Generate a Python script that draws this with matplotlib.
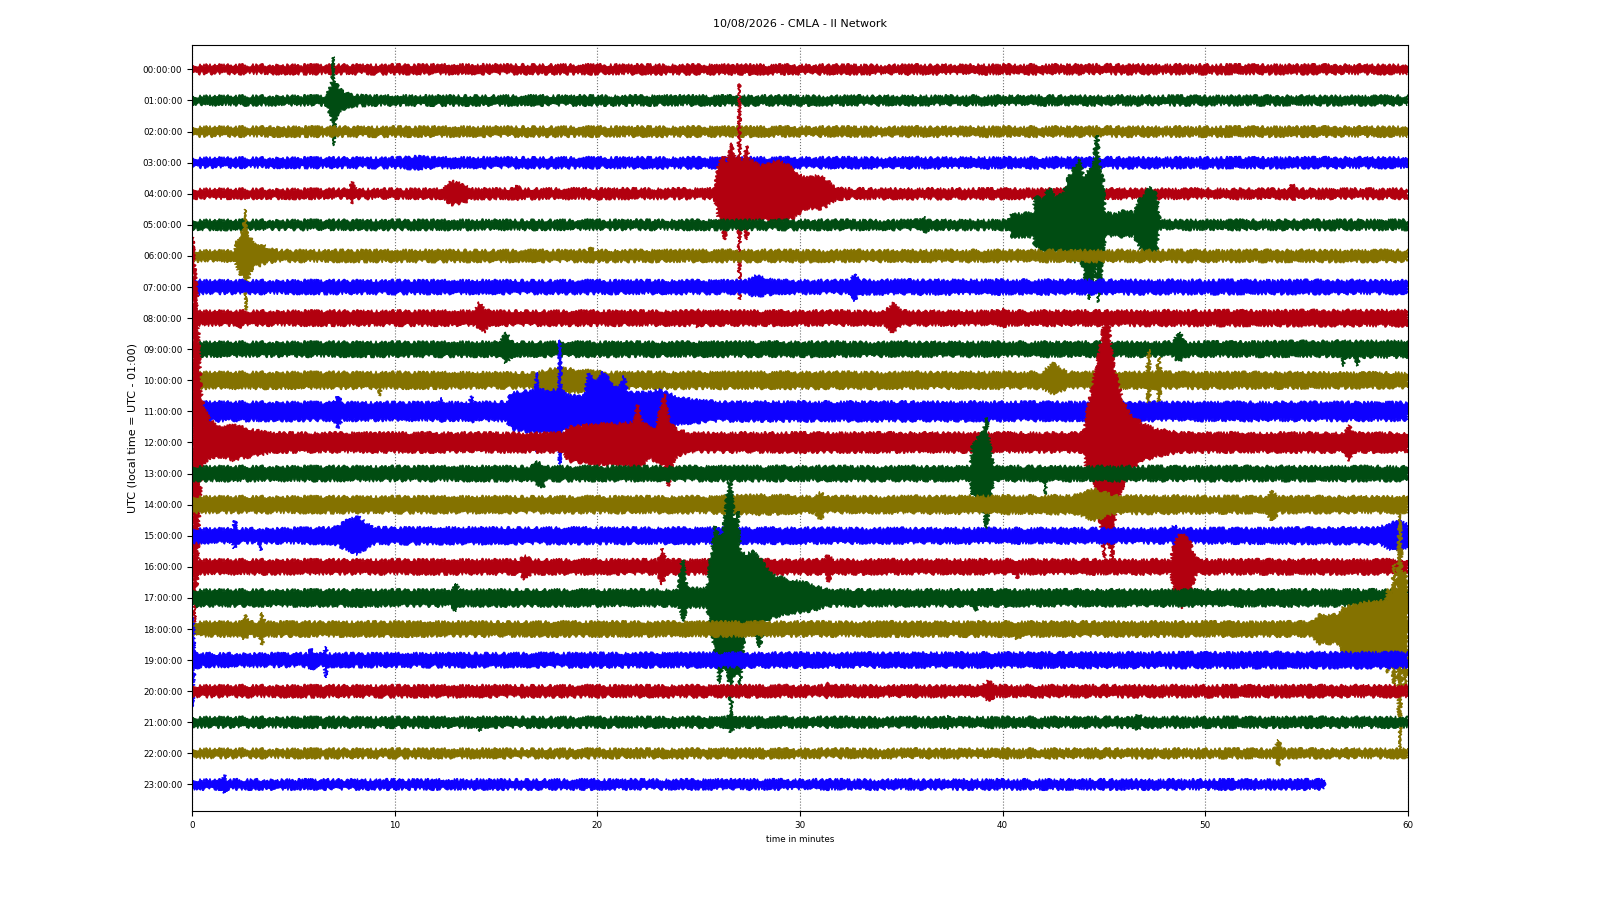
import matplotlib
matplotlib.use("Agg")
import matplotlib.pyplot as plt

TITLE = "10/08/2026 - CMLA - II Network"
YLABEL = "UTC (local time = UTC - 01:00)"
XLABEL = "time in minutes"
HOUR_LABELS = [f"{h:02d}:00:00" for h in range(24)]
COLORS = ["#B2000F", "#004C12", "#847200", "#0E01FF"]
X_TICKS = [0, 10, 20, 30, 40, 50, 60]

# envelope knots per hourly trace:
# (minute, amplitude above baseline, amplitude below baseline), 1.0 = one trace spacing
H00 = [(0, .13, .13), (14, .14, .13), (30, .13, .14), (46, .14, .13), (60, .13, .13)]
H01 = [(0, .13, .13), (6.6, .14, .14), (6.8, .35, .4), (6.92, .65, .85), (6.97, 1.4, .85),
       (7.0, .7, .85), (7.03, .7, 1.46), (7.08, .55, .6), (7.2, .45, .4), (7.4, .3, .3),
       (7.7, .22, .2), (8.2, .16, .16), (8.8, .14, .14), (60, .13, .13)]
H02 = [(0, .14, .14), (3.6, .14, .14), (3.8, .2, .15), (4.0, .14, .14), (60, .14, .14)]
H03 = [(0, .14, .14), (10.3, .15, .15), (11.0, .2, .2), (12.0, .15, .15), (32, .15, .16), (60, .15, .15)]
H04 = [(0, .14, .14), (7.7, .14, .14), (7.9, .37, .3), (8.1, .14, .14), (12.3, .14, .14),
       (12.8, .4, .34), (13.4, .3, .3), (13.8, .15, .15), (15.8, .15, .15), (16.0, .3, .2),
       (16.2, .15, .15), (25.8, .15, .15), (25.95, .8, .75), (26.1, 1.1, .9), (26.3, 1.2, 1.48),
       (26.4, 1.0, .9), (26.66, 1.63, .9), (26.8, 1.1, .95), (26.97, 1.2, 1.0), (27.01, 3.54, 3.4),
       (27.05, 1.2, 1.0), (27.2, 1.0, .95), (27.37, 1.55, 1.48), (27.5, 1.1, .9), (27.8, 1.0, .9),
       (28.1, .9, .85), (28.5, .95, .85), (28.9, 1.1, .9), (29.3, .95, .85), (29.7, .8, .8),
       (30.0, .6, .6), (30.4, .5, .45), (30.9, .6, .5), (31.3, .45, .4), (31.75, .2, .2),
       (32.2, .15, .15), (54.1, .14, .14), (54.3, .3, .2), (54.5, .14, .14), (60, .14, .14)]
H05 = [(0, .14, .14), (35.8, .14, .14), (36.1, .25, .25), (36.4, .14, .14), (40.3, .14, .14),
       (40.45, .38, .4), (41.0, .35, .38), (41.5, .4, .4), (41.6, .9, .7), (42.0, .85, .8),
       (42.3, 1.2, .86), (42.6, .9, .8), (43.0, 1.0, .86), (43.2, 1.45, .9), (43.5, 1.8, 1.2),
       (43.8, 2.1, .95), (44.0, 1.5, 1.5), (44.3, 1.8, 2.4), (44.5, 2.0, 1.6), (44.6, 2.85, 1.2),
       (44.68, 2.9, 2.5), (44.8, 1.7, 2.3), (44.95, 1.5, 1.0), (45.05, .4, .38), (45.5, .35, .35),
       (46.0, .45, .4), (46.5, .4, .35), (46.76, .8, .75), (47.0, 1.0, .85), (47.3, 1.2, .86),
       (47.6, 1.0, .85), (47.7, .4, .3), (47.75, .14, .14), (60, .14, .14)]
H06 = [(0, .16, .16), (2.1, .16, .16), (2.2, .4, .35), (2.4, .75, .6), (2.55, .8, .7),
       (2.62, 1.5, .9), (2.67, .9, 1.74), (2.75, .75, .8), (2.9, .55, .5), (3.1, .35, .35),
       (3.35, .3, .3), (3.55, .35, .25), (3.8, .22, .2), (4.3, .17, .17), (19.5, .17, .17),
       (19.7, .24, .2), (19.9, .17, .17), (60, .17, .17)]
H07 = [(0, .28, .28), (0.5, .2, .2), (27.4, .2, .2), (27.8, .35, .3), (28.3, .3, .25),
       (28.8, .2, .2), (32.5, .2, .2), (32.7, .44, .47), (32.9, .22, .22), (60, .2, .2)]
H08 = [(0, .22, .22), (2.1, .22, .22), (2.3, .22, .32), (2.5, .22, .22), (13.9, .22, .22),
       (14.2, .5, .3), (14.4, .3, .45), (14.7, .22, .22), (24.8, .22, .22), (25.0, .3, .3),
       (25.2, .22, .22), (34.2, .22, .22), (34.6, .48, .48), (35.0, .22, .22), (39.8, .22, .22),
       (40.1, .3, .25), (40.4, .22, .22), (60, .24, .24)]
H09 = [(0, .22, .22), (15.2, .22, .22), (15.5, .54, .45), (15.8, .22, .22), (48.4, .22, .22),
       (48.7, .57, .4), (49.0, .22, .22), (56.7, .25, .22), (56.8, .25, .56), (56.9, .25, .25),
       (57.4, .25, .25), (57.5, .25, .55), (57.6, .25, .25), (60, .25, .25)]
H10 = [(0, .25, .25), (9.2, .25, .25), (9.3, .25, .5), (9.4, .25, .25), (16.9, .23, .23),
       (18.0, .4, .45), (20.4, .25, .25), (41.9, .25, .25), (42.5, .54, .43), (43.2, .25, .25),
       (47.1, .25, .25), (47.2, 1.0, .75), (47.3, .3, .3), (47.6, .25, .25), (47.7, .75, .75),
       (47.8, .25, .25), (60, .23, .23)]
H11 = [(0, .3, .3), (7.0, .28, .28), (7.2, .5, .52), (7.4, .28, .28), (12.2, .28, .28),
       (12.3, .45, .3), (12.4, .28, .28), (13.7, .28, .28), (13.8, .5, .35), (13.9, .28, .28),
       (15.5, .3, .3), (15.8, .6, .6), (16.5, .65, .65), (16.95, .7, .7), (17.0, 1.26, 1.32),
       (17.05, .7, .7), (17.5, .67, .68), (18.1, .7, .7), (18.15, 2.3, 1.7), (18.22, .7, .7),
       (18.6, .5, .5), (19.4, .5, .5), (19.55, 1.2, .68), (20.0, 1.0, .68), (20.3, 1.26, .68),
       (20.7, .9, .68), (21.1, .75, .65), (21.3, 1.15, .6), (21.5, .6, .57), (22.5, .6, .57),
       (23.0, .7, .6), (24.1, .45, .4), (25, .35, .35), (26, .3, .3), (60, .28, .28)]
H12 = [(0, .3, .3), (0.03, 6.6, 4.0), (0.12, 5.8, 5.8), (0.25, 4.8, 4.5), (0.35, 3.0, 2.5),
       (0.45, 1.6, 1.0), (0.6, 1.1, .7), (0.75, .9, .55), (0.9, .7, .5), (1.5, .5, .45),
       (2.1, .55, .6), (2.4, .5, .5), (3.0, .4, .45), (4.0, .3, .3), (18.3, .3, .3),
       (18.6, .5, .6), (20.0, .6, .7), (21.0, .6, .75), (21.8, .65, .75), (22.0, 1.2, .75),
       (22.2, .7, .75), (22.5, .5, .5), (22.9, .5, .6), (23.3, 1.56, .75), (23.5, .8, 1.4),
       (23.8, .45, .5), (24.5, .3, .3), (44.0, .3, .3), (44.1, .75, .8), (44.45, 1.88, .9),
       (44.8, 3.0, 2.5), (45.0, 3.8, 3.7), (45.2, 4.0, 3.0), (45.4, 2.8, 3.8), (45.6, 2.1, 2.0),
       (45.95, 1.34, 1.4), (46.3, .9, .9), (46.9, .6, .6), (47.5, .45, .45), (48.8, .3, .3),
       (56.9, .3, .3), (57.1, .55, .6), (57.3, .3, .3), (60, .3, .3)]
H13 = [(0, .22, .22), (16.8, .22, .22), (16.9, .4, .3), (17.3, .3, .45), (17.5, .22, .22),
       (38.4, .22, .22), (38.5, .9, .7), (38.8, 1.16, .9), (39.0, 1.3, 1.0), (39.2, 1.8, 1.85),
       (39.35, 1.0, 1.0), (39.5, .4, .5), (39.6, .22, .22), (42.0, .22, .22), (42.1, .22, .67),
       (42.2, .22, .22), (60, .22, .22)]
H14 = [(0, .25, .25), (25.5, .25, .25), (28.0, .3, .3), (30.7, .25, .25), (31.0, .38, .48),
       (31.3, .25, .25), (43.5, .28, .28), (44.5, .5, .5), (45.5, .28, .28), (53.0, .25, .25),
       (53.3, .43, .54), (53.6, .25, .25), (60, .25, .25)]
H15 = [(0, .22, .22), (2.0, .22, .22), (2.1, .48, .43), (2.3, .22, .22), (3.3, .22, .22),
       (3.4, .22, .48), (3.5, .22, .22), (7.0, .25, .25), (7.5, .45, .4), (8.2, .63, .6),
       (8.6, .4, .4), (9.0, .25, .25), (48.3, .22, .22), (48.5, .35, .3), (48.7, .22, .22),
       (58.5, .25, .25), (59.3, .43, .48), (59.6, .5, .5), (60, .35, .35)]
H16 = [(0, .22, .22), (16.2, .22, .22), (16.45, .39, .42), (16.7, .22, .22), (23.0, .22, .22),
       (23.2, .6, .58), (23.4, .22, .22), (31.2, .22, .22), (31.4, .39, .47), (31.6, .22, .22),
       (40.6, .22, .22), (40.7, .22, .37), (40.8, .22, .22), (48.3, .22, .22), (48.5, .85, .85),
       (48.8, 1.08, 1.34), (49.2, .85, .85), (49.5, .3, .3), (49.7, .22, .22), (60, .22, .22)]
H17 = [(0, .25, .25), (12.8, .25, .25), (13.0, .47, .44), (13.2, .25, .25), (24.0, .25, .25),
       (24.15, 1.1, .5), (24.25, 1.23, .75), (24.35, .5, .55), (24.5, .3, .3), (25.4, .3, .3),
       (25.5, .8, .7), (25.8, 2.3, 1.8), (26.0, 2.0, 2.75), (26.2, 2.0, 2.1), (26.45, 3.75, 2.4),
       (26.6, 3.7, 3.7), (26.75, 2.5, 2.4), (26.95, 2.8, 2.4), (27.05, 1.5, 2.8), (27.3, 1.4, .9),
       (27.7, 1.5, .85), (28.0, 1.3, 1.6), (28.3, 1.0, .8), (28.8, .7, .6), (29.4, .6, .5),
       (30.2, .5, .45), (30.9, .35, .35), (31.4, .25, .25), (38.6, .25, .25), (38.7, .25, .44),
       (38.8, .25, .25), (60, .25, .25)]
H18 = [(0, .22, .22), (2.5, .22, .22), (2.6, .48, .35), (2.8, .22, .22), (3.3, .22, .22),
       (3.45, .54, .5), (3.6, .22, .22), (40.5, .22, .22), (40.7, .22, .35), (40.9, .22, .22),
       (55.2, .22, .22), (55.6, .45, .46), (56.6, .45, .46), (56.8, .7, .78), (57.5, .8, .78),
       (58.2, .9, .8), (58.9, .9, .8), (59.0, 1.3, 1.43), (59.2, 1.0, 1.0), (59.3, 2.1, 1.86),
       (59.45, 1.2, 1.2), (59.6, 3.8, 3.9), (59.7, 1.8, 1.2), (59.85, 1.8, 1.86), (60, 1.5, 1.2)]
H19 = [(0, 1.4, 1.5), (0.06, 1.4, 1.5), (0.12, .25, .25), (0.5, .2, .2), (5.7, .2, .2),
       (5.9, .38, .32), (6.1, .2, .2), (6.5, .2, .2), (6.6, .43, .56), (6.7, .2, .2), (60, .24, .24)]
H20 = [(0, .17, .17), (31.2, .17, .17), (31.4, .25, .2), (31.6, .17, .17), (39.0, .17, .17),
       (39.3, .35, .3), (39.6, .17, .17), (60, .17, .17)]
H21 = [(0, .15, .15), (14.1, .15, .15), (14.2, .2, .3), (14.3, .15, .15), (26.4, .15, .15),
       (26.6, .29, .35), (26.8, .15, .15), (37.2, .15, .15), (37.3, .22, .25), (37.4, .15, .15),
       (46.5, .15, .15), (46.7, .25, .25), (46.9, .15, .15), (60, .15, .15)]
H22 = [(0, .13, .13), (53.4, .13, .13), (53.6, .43, .38), (53.8, .13, .13), (60, .13, .13)]
H23 = [(0, .14, .14), (1.5, .14, .14), (1.6, .3, .3), (1.7, .14, .14), (55.9, .14, .14)]

TRACES = [H00, H01, H02, H03, H04, H05, H06, H07, H08, H09, H10, H11,
          H12, H13, H14, H15, H16, H17, H18, H19, H20, H21, H22, H23]

fig = plt.figure(figsize=(16, 9), dpi=100)
ax = fig.add_axes([0.12, 0.099, 0.760, 0.851])

for i, knots in enumerate(TRACES):
    c = COLORS[i % 4]
    # outline of the trace band: along the upper envelope, back along the lower one
    xs = [k[0] for k in knots] + [k[0] for k in reversed(knots)]
    ys = [-i + k[1] for k in knots] + [-i - k[2] for k in reversed(knots)]
    patch, = ax.fill(xs, ys, facecolor=c, edgecolor=c, lw=0.8, zorder=2 + i * 0.01)
    # jagged edge so the band reads like a dense wiggle trace
    patch.set_sketch_params(scale=1.7, length=2.0, randomness=16)

ax.set_xlim(0, 60)
ax.set_ylim(-23.85, 0.785)
ax.set_xticks(X_TICKS)
ax.set_yticks([-i for i in range(24)])
ax.set_yticklabels(HOUR_LABELS)
ax.tick_params(labelsize=6.3)
ax.xaxis.grid(True, ls=":", color="0.45", lw=0.8)
ax.set_axisbelow(True)
ax.set_xlabel(XLABEL, fontsize=6.3)
ax.set_ylabel(YLABEL, fontsize=8)
fig.suptitle(TITLE, fontsize=8, y=0.973, va="center")

fig.savefig("out.png", dpi=100)
